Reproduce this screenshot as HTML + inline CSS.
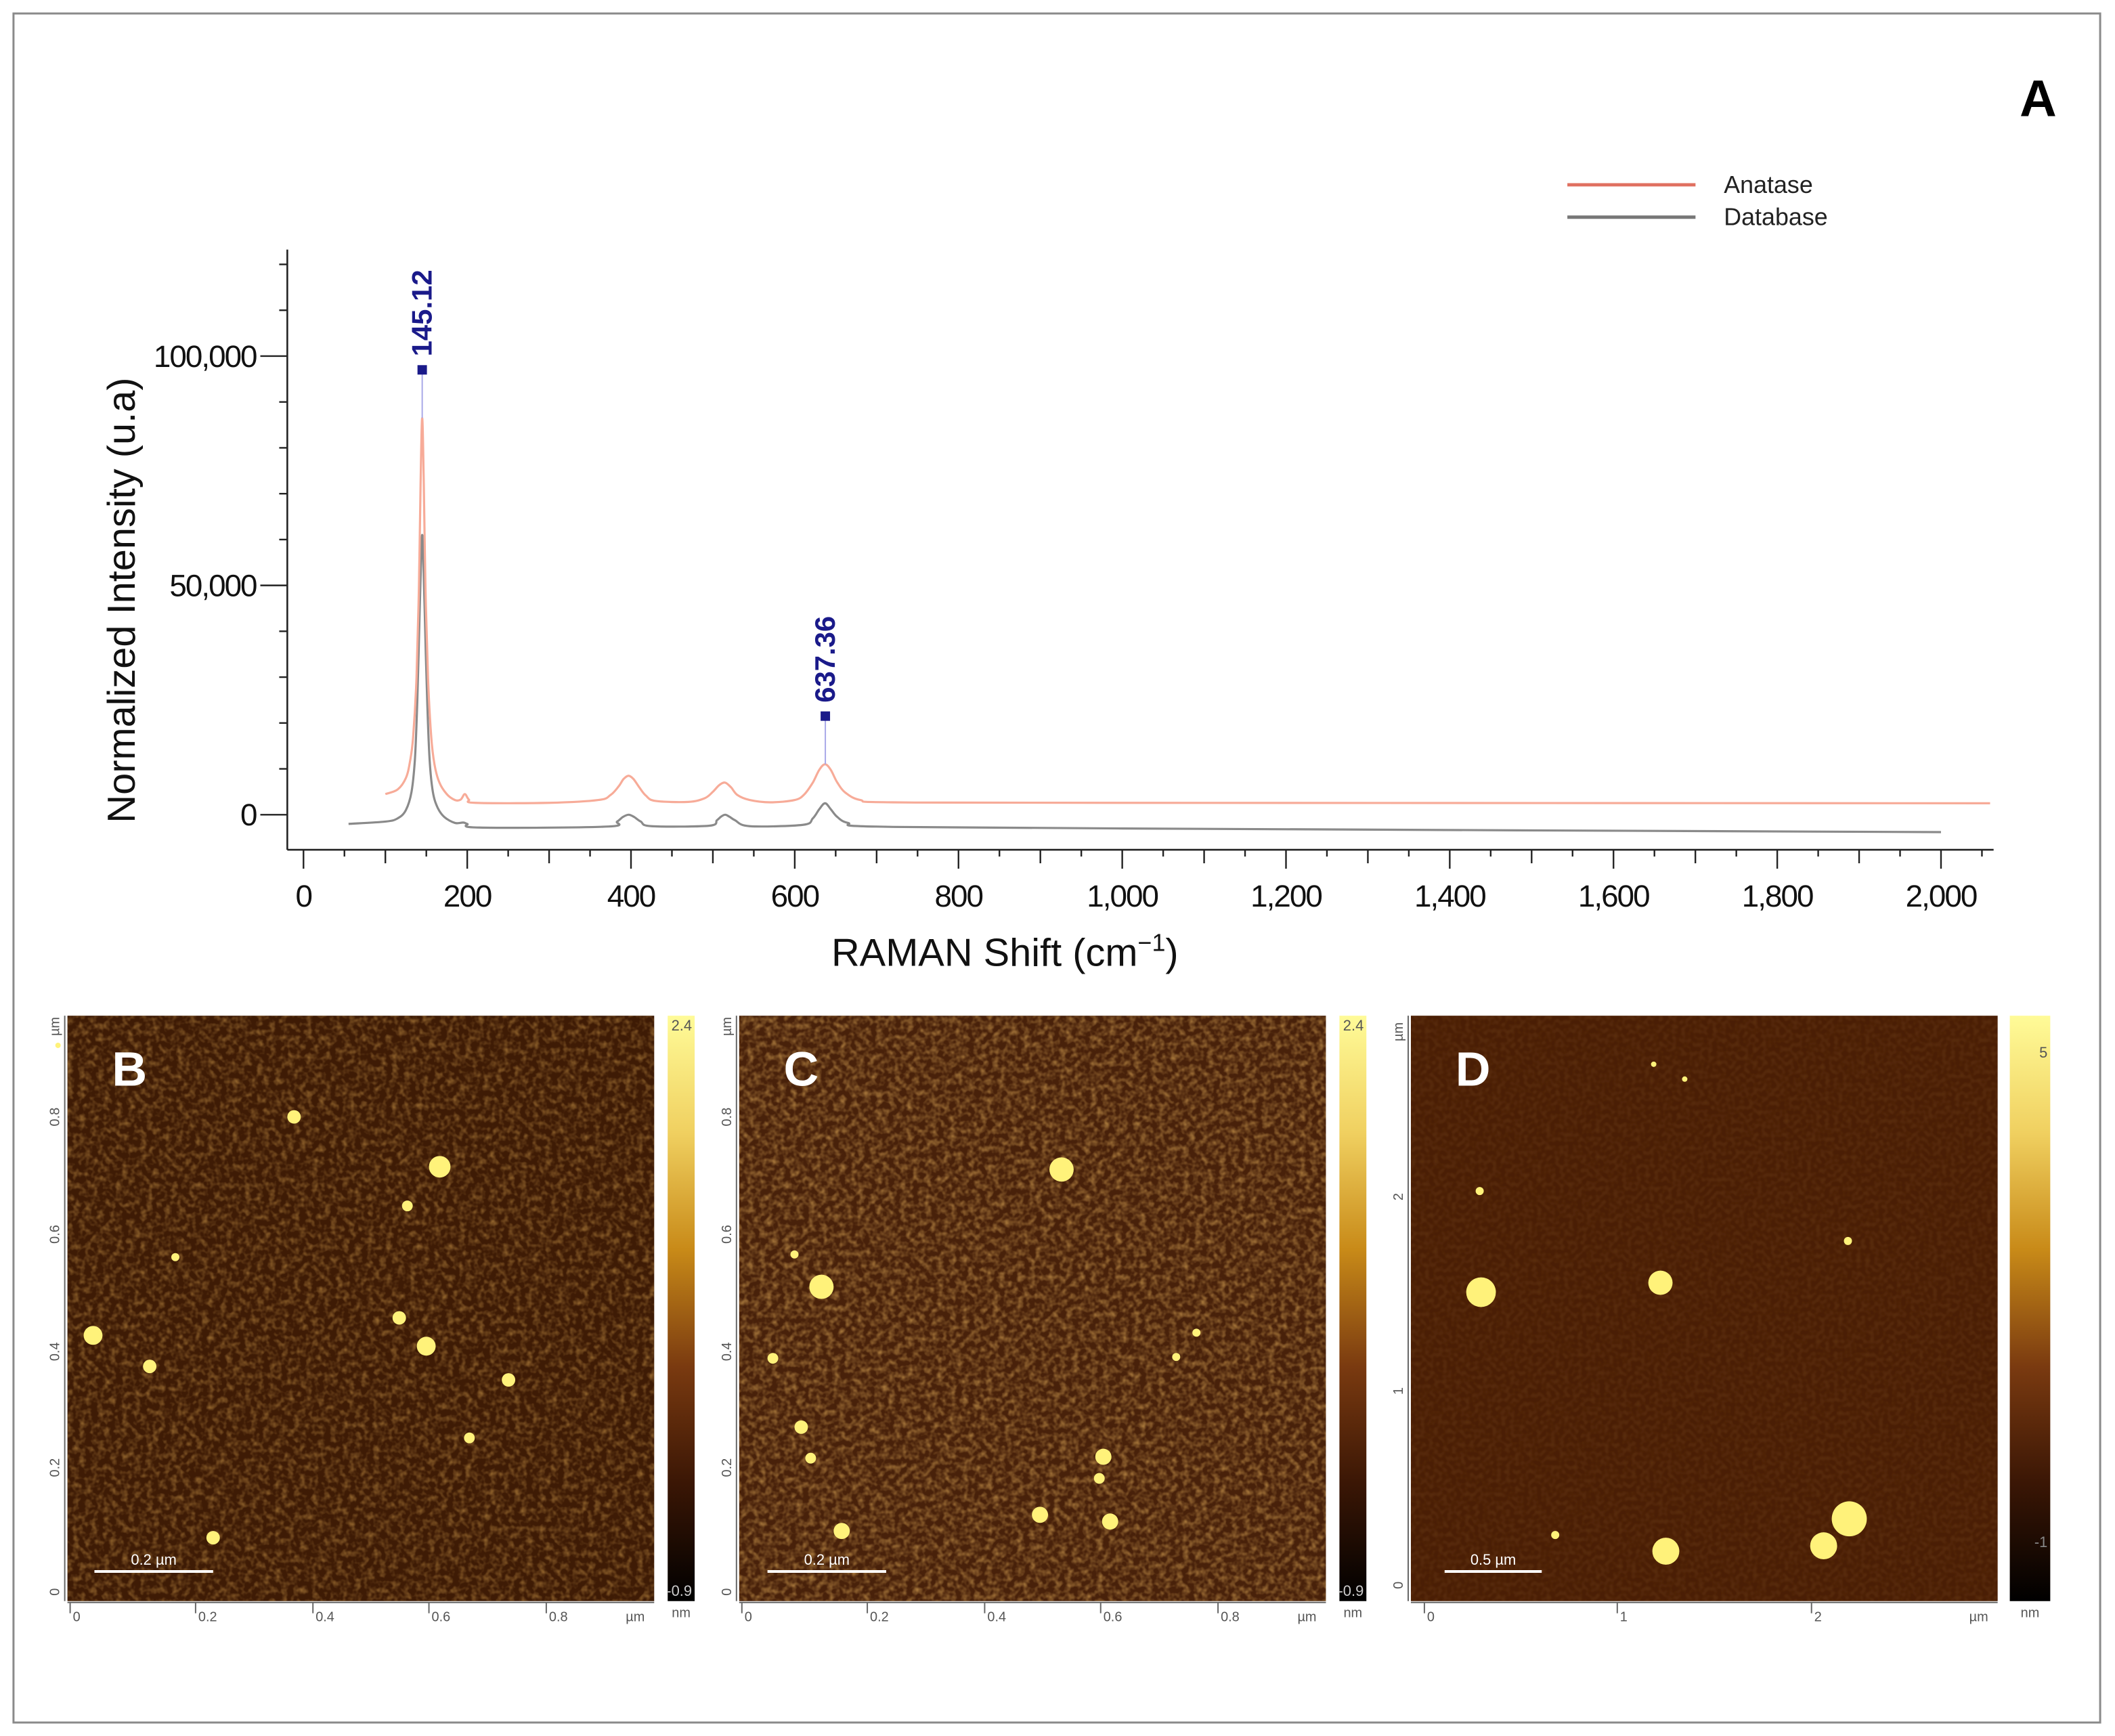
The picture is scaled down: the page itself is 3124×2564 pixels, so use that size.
<!DOCTYPE html>
<html><head><meta charset="utf-8"><style>
html,body{margin:0;padding:0;background:#fff;}
svg{display:block;font-family:"Liberation Sans",sans-serif;}
</style></head><body>
<svg id="fig" width="3124" height="2564" viewBox="0 0 1568 1287" preserveAspectRatio="none" xmlns="http://www.w3.org/2000/svg">
<defs>
<filter id="noiseB" x="0" y="0" width="100%" height="100%">
<feTurbulence type="fractalNoise" baseFrequency="0.22" numOctaves="2" seed="3" result="n"/>
<feColorMatrix in="n" type="matrix" values="0 0 0 0 0.55  0 0 0 0 0.28  0 0 0 0 0.06  1.2 0 0 0 -0.5" result="c"/>
<feComposite in="c" in2="SourceGraphic" operator="in"/>
</filter>
<filter id="noiseC" x="0" y="0" width="100%" height="100%">
<feTurbulence type="fractalNoise" baseFrequency="0.22" numOctaves="2" seed="8" result="n"/>
<feColorMatrix in="n" type="matrix" values="0 0 0 0 0.62  0 0 0 0 0.33  0 0 0 0 0.08  1.3 0 0 0 -0.5" result="c"/>
<feComposite in="c" in2="SourceGraphic" operator="in"/>
</filter>
<filter id="noiseD" x="0" y="0" width="100%" height="100%">
<feTurbulence type="fractalNoise" baseFrequency="0.3" numOctaves="1" seed="5" result="n"/>
<feColorMatrix in="n" type="matrix" values="0 0 0 0 0.36  0 0 0 0 0.16  0 0 0 0 0.03  0.4 0 0 0 -0.15" result="c"/>
<feComposite in="c" in2="SourceGraphic" operator="in"/>
</filter>
<linearGradient id="cbar" x1="0" y1="0" x2="0" y2="1">
<stop offset="0" stop-color="#fffb98"/><stop offset="0.2" stop-color="#f0d060"/><stop offset="0.4" stop-color="#c88a18"/>
<stop offset="0.6" stop-color="#7a3a10"/><stop offset="0.8" stop-color="#3a1605"/><stop offset="1" stop-color="#000"/>
</linearGradient>
</defs>
<rect x="10" y="10" width="1547" height="1267" fill="#fff" stroke="#8a8a8a" stroke-width="1.5"/>
<text x="1511" y="86" font-size="38" font-weight="bold" text-anchor="middle">A</text>
<g id="chart"></g>
<g id="afm"></g>
</svg>
<script>
const xTicks=[0,200,400,600,800,1000,1200,1400,1600,1800,2000];
const xTickLabels=["0","200","400","600","800","1,000","1,200","1,400","1,600","1,800","2,000"];
const yTicks=[0,50000,100000];
const yTickLabels=["0","50,000","100,000"];
const anataseX=[100,115,125,130,134,138,141,143,145,147,149,152,156,160,166,175,185,192,197,202,210,300,360,375,385,391,397,403,410,418,430,470,490,500,508,515,522,530,545,570,600,612,622,630,637,644,652,662,680,720,1000,2060];
const anataseY=[4500,5500,8000,11500,17000,30000,50000,72000,86500,72000,50000,30000,17000,11000,7000,4500,3200,3300,4500,3300,2600,2600,3200,4300,6200,7800,8500,7800,6000,4200,3000,2800,3600,5000,6500,7000,6000,4300,3200,2700,3200,4500,7000,9800,11000,9800,7000,4800,3200,2700,2600,2500];
const databaseX=[55,100,115,125,132,136,139,142,144,145,146,148,151,154,158,164,172,185,195,200,215,370,383,390,397,404,412,425,495,505,510,515,520,527,545,610,622,630,637,644,652,665,700,1000,2000];
const databaseY=[-2000,-1500,-800,1000,5000,12000,25000,45000,58000,61000,58000,45000,25000,12000,5000,1500,-500,-1800,-1700,-2000,-2800,-2600,-1500,-500,0,-500,-1500,-2500,-2400,-1200,-400,0,-400,-1200,-2500,-2200,-800,1200,2500,1200,-500,-1800,-2600,-3000,-3800];
const peakLabels=["145.12","637.36"];
const peakX=[145,637.36];
const peakMarkerY=[97000,21500];
const peakTopY=[86500,11000];

const NS="http://www.w3.org/2000/svg";
function mk(tag,attrs,parent,txt){const e=document.createElementNS(NS,tag);for(const k in attrs)e.setAttribute(k,attrs[k]);if(txt!==undefined)e.textContent=txt;parent.appendChild(e);return e;}
const sx=v=>225+(v-0)*(1439-225)/2000;
const sy=v=>604-v*(604-264)/100000;
const chart=document.getElementById('chart');

let ax=mk('line',{x1:213,y1:185,x2:213,y2:630,stroke:'#222','stroke-width':1.3},chart);

ax=mk('line',{x1:213,y1:630,x2:1478,y2:630,stroke:'#222','stroke-width':1.3},chart);

for(let v=0;v<=120000;v+=10000){
  const major=v%50000===0;
  const t=mk('line',{x1:major?193:207,y1:sy(v),x2:213,y2:sy(v),stroke:'#222','stroke-width':1.2},chart);
  
}
yTicks.forEach((v,i)=>{const t=mk('text',{x:190,y:sy(v)+8,'font-size':23,'text-anchor':'end','letter-spacing':'-1',fill:'#111'},chart,yTickLabels[i]);
  });
for(let v=0;v<=2050;v+=50){
  const len=v%200===0?14:(v%100===0?10:5);
  const t=mk('line',{x1:sx(v),y1:630,x2:sx(v),y2:630+len,stroke:'#222','stroke-width':1.2},chart);
  
}
xTicks.forEach((v,i)=>{const t=mk('text',{x:sx(v),y:672,'font-size':23,'text-anchor':'middle','letter-spacing':'-1',fill:'#111'},chart,xTickLabels[i]);
  });
let tt=mk('text',{x:0,y:0,'font-size':29,'text-anchor':'middle',fill:'#111',transform:'translate(100,445) rotate(-90)'},chart,'Normalized Intensity (u.a)');

tt=mk('text',{x:745,y:716,'font-size':29,'text-anchor':'middle',fill:'#111'},chart,'RAMAN Shift (cm');

mk('tspan',{'font-size':18,dy:-11},tt,'−1');
mk('tspan',{'font-size':29,dy:11},tt,')');

function series(xs,ys,color,name){
  const P=xs.map((x,i)=>[sx(x),sy(ys[i])]);
  let d='M'+P[0][0].toFixed(1)+','+P[0][1].toFixed(1);
  for(let i=0;i<P.length-1;i++){
    const p0=P[Math.max(0,i-1)],p1=P[i],p2=P[i+1],p3=P[Math.min(P.length-1,i+2)];
    const c1=[p1[0]+(p2[0]-p0[0])/6,p1[1]+(p2[1]-p0[1])/6];
    const c2=[p2[0]-(p3[0]-p1[0])/6,p2[1]-(p3[1]-p1[1])/6];
    d+=` C${c1[0].toFixed(1)},${c1[1].toFixed(1)} ${c2[0].toFixed(1)},${c2[1].toFixed(1)} ${p2[0].toFixed(1)},${p2[1].toFixed(1)}`;
  }
  const p=mk('path',{d:d,fill:'none',stroke:color,'stroke-width':1.6,'stroke-linejoin':'round'},chart);
  
}
series(databaseX,databaseY,'#8a8a8a','database-line');
series(anataseX,anataseY,'#f7ab98','anatase-line');

peakX.forEach((x,i)=>{
  const l=mk('line',{x1:sx(x),y1:sy(peakMarkerY[i]),x2:sx(x),y2:sy(peakTopY[i]),stroke:'#a8a8e8','stroke-width':1},chart);
  
  const m=mk('rect',{x:sx(x)-3.5,y:sy(peakMarkerY[i])-3.5,width:7,height:7,fill:'#1a1a8a'},chart);
  
  const t=mk('text',{x:0,y:0,'font-size':21,'font-weight':'bold',fill:'#1a1a8a',transform:`translate(${sx(x)+7},${sy(peakMarkerY[i])-10}) rotate(-90)`},chart,peakLabels[i]);
  
});
let lg=mk('line',{x1:1162,y1:137,x2:1257,y2:137,stroke:'#e07060','stroke-width':2.5},chart);

lg=mk('text',{x:1278,y:143,'font-size':18,fill:'#222'},chart,'Anatase');

lg=mk('line',{x1:1162,y1:161,x2:1257,y2:161,stroke:'#777','stroke-width':2.5},chart);

lg=mk('text',{x:1278,y:167,'font-size':18,fill:'#222'},chart,'Database');


const afm=document.getElementById('afm');
const panels=[
 {id:'b',x:50,base:'#3e1b05',filt:'noiseB',cbx:495,cbw:20,top:'2.4',bot:'-0.9',topY:764,botY:1183,
  xl:[['0',52],['0.2',145],['0.4',232],['0.6',318],['0.8',405]],yl:[['0',1185],['0.2',1097],['0.4',1011],['0.6',924],['0.8',837]],
  bar:[70,158],barTxt:'0.2 µm',
  dots:[[69,990,7],[111,1013,5],[218,828,5],[326,865,8],[302,894,4],[130,932,3],[296,977,5],[316,998,7],[377,1023,5],[348,1066,4],[158,1140,5],[43,775,2]]},
 {id:'c',x:548,base:'#48210a',filt:'noiseC',cbx:993,cbw:20,top:'2.4',bot:'-0.9',topY:764,botY:1183,
  xl:[['0',550],['0.2',643],['0.4',730],['0.6',816],['0.8',903]],yl:[['0',1185],['0.2',1097],['0.4',1011],['0.6',924],['0.8',837]],
  bar:[569,657],barTxt:'0.2 µm',
  dots:[[787,867,9],[609,954,9],[589,930,3],[573,1007,4],[594,1058,5],[601,1081,4],[818,1080,6],[815,1096,4],[771,1123,6],[823,1128,6],[624,1135,6],[887,988,3],[872,1006,3]]},
 {id:'d',x:1046,base:'#4a1e05',filt:'noiseD',cbx:1490,cbw:30,top:'5',bot:'-1',topY:784,botY:1147,
  xl:[['0',1056],['1',1199],['2',1343]],yl:[['0',1180],['1',1036],['2',892]],
  bar:[1071,1143],barTxt:'0.5 µm',
  dots:[[1098,958,11],[1231,951,9],[1235,1150,10],[1352,1146,10],[1371,1126,13],[1153,1138,3],[1097,883,3],[1370,920,3],[1249,800,2],[1226,789,2]]}
];
panels.forEach(p=>{
  const g=mk('g',{},afm);
  
  const r=mk('rect',{x:p.x,y:753,width:435,height:434,fill:p.base},g);
  
  const nz=mk('rect',{x:p.x,y:753,width:435,height:434,fill:'#000',filter:'url(#'+p.filt+')'},g);
  
  p.dots.forEach(d=>{const c=mk('circle',{cx:d[0],cy:d[1],r:d[2],fill:'#fff27a'},g);
    });
  const L=mk('text',{x:p.x+46,y:805,'font-size':36,'font-weight':'bold',fill:'#fff','text-anchor':'middle'},g,p.id.toUpperCase());
  
  const sb=mk('line',{x1:p.bar[0],y1:1165,x2:p.bar[1],y2:1165,stroke:'#fff','stroke-width':2},g);
  
  const st=mk('text',{x:(p.bar[0]+p.bar[1])/2,y:1160,'font-size':11,fill:'#fff','text-anchor':'middle'},g,p.barTxt);
  
  const cb=mk('rect',{x:p.cbx,y:753,width:p.cbw,height:434,fill:'url(#cbar)'},g);
  
  let t=mk('text',{x:p.cbx+p.cbw-2,y:p.topY,'font-size':11,fill:'#555','text-anchor':'end'},g,p.top);
  
  t=mk('text',{x:p.cbx+p.cbw-2,y:p.botY,'font-size':11,fill:p.id==='d'?'#888':'#ccc','text-anchor':'end'},g,p.bot);
  
  t=mk('text',{x:p.cbx+p.cbw/2,y:1199,'font-size':10,fill:'#555','text-anchor':'middle'},g,'nm');
  
  const ab=mk('line',{x1:p.x,y1:1188,x2:p.x+435,y2:1188,stroke:'#666','stroke-width':1},g);
  
  const al=mk('line',{x1:p.x-2,y1:753,x2:p.x-2,y2:1187,stroke:'#666','stroke-width':1},g);
  
  p.xl.forEach(a=>{const x=mk('text',{x:a[1]+2,y:1202,'font-size':10,fill:'#555'},g,a[0]);
    
    const tk=mk('line',{x1:a[1],y1:1188,x2:a[1],y2:1196,stroke:'#666'},g);
    });
  const xu=mk('text',{x:p.x+428,y:1202,'font-size':10,fill:'#555','text-anchor':'end'},g,'µm');
  
  p.yl.forEach(a=>{const y=mk('text',{x:0,y:0,'font-size':10,fill:'#555',transform:`translate(${p.x-6},${a[1]-2}) rotate(-90)`},g,a[0]);
    });
  const yu=mk('text',{x:0,y:0,'font-size':10,fill:'#555',transform:`translate(${p.x-6},${p.id==='d'?772:768}) rotate(-90)`},g,'µm');
  
});
</script>
</body></html>
